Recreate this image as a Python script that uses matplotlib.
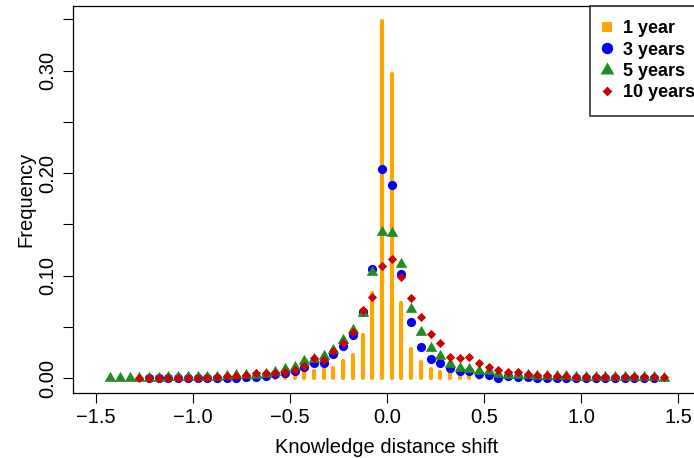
import matplotlib
matplotlib.use('Agg')
import matplotlib.pyplot as plt
from matplotlib.lines import Line2D
import numpy as np

plt.rcParams['font.family'] = ['Liberation Sans', 'DejaVu Sans']

# bin centres of the knowledge distance shift
bins = [-1.425, -1.375, -1.325, -1.275, -1.225, -1.175, -1.125, -1.075, -1.025, -0.975,
        -0.925, -0.875, -0.825, -0.775, -0.725, -0.675, -0.625, -0.575, -0.525, -0.475,
        -0.425, -0.375, -0.325, -0.275, -0.225, -0.175, -0.125, -0.075, -0.025, 0.025,
        0.075, 0.125, 0.175, 0.225, 0.275, 0.325, 0.375, 0.425, 0.475, 0.525,
        0.575, 0.625, 0.675, 0.725, 0.775, 0.825, 0.875, 0.925, 0.975, 1.025,
        1.075, 1.125, 1.175, 1.225, 1.275, 1.325, 1.375, 1.425]

N = None
year1 = [N] * 16 + [0.0012, 0.002, 0.004, 0.0055, 0.0065, 0.0072, 0.0088, 0.0105, 0.017, 0.0232,
                    0.042, 0.083, 0.348, 0.297, 0.0735, 0.029, 0.016, 0.009, 0.0065, 0.005,
                    0.0035, 0.0021, 0.0012, 0.0004, 0.0] + [N] * 17
year3 = [N, N, N, N, 0.0002, 0.0002, 0.0003, 0.0003, 0.0003, 0.0004,
         0.0004, 0.0005, 0.0006, 0.0008, 0.001, 0.0013, 0.0018, 0.004, 0.0055, 0.0075,
         0.011, 0.0153, 0.0153, 0.024, 0.0315, 0.0425, 0.0643, 0.107, 0.204, 0.1886,
         0.1022, 0.055, 0.0306, 0.0192, 0.0145, 0.010, 0.0075, 0.0068, 0.0042, 0.0031,
         0.0008, 0.0018, 0.0015, 0.001, 0.0007, 0.0004, 0.0003, 0.0003, 0.0003, 0.0003,
         0.0002, 0.0002, 0.0002, 0.0002, 0.0002, 0.0002, 0.0002, N]
year5 = [0.0004, 0.0004, 0.0004, 0.0006, 0.0008, 0.0008, 0.0009, 0.001, 0.001, 0.0012,
         0.0015, 0.0017, 0.0025, 0.003, 0.0035, 0.0035, 0.004, 0.006, 0.009, 0.011,
         0.0165, 0.019, 0.0215, 0.028, 0.037, 0.047, 0.064, 0.104, 0.143, 0.142,
         0.111, 0.068, 0.045, 0.030, 0.0215, 0.0143, 0.0105, 0.0095, 0.0075, 0.007,
         0.004, 0.003, 0.003, 0.003, 0.0025, 0.002, 0.002, 0.0018, 0.0015, 0.0015,
         0.0015, 0.0012, 0.0012, 0.0012, 0.001, 0.001, 0.001, 0.0008]
year10 = [N, N, N, 0.0005, 0.0005, 0.0005, 0.0006, 0.0006, 0.0006, 0.0007,
          0.0008, 0.0012, 0.0018, 0.0025, 0.0032, 0.0052, 0.005, 0.0055, 0.0062, 0.0081,
          0.012, 0.0198, 0.0178, 0.027, 0.0347, 0.0455, 0.0665, 0.0792, 0.1094, 0.1168,
          0.099, 0.0788, 0.060, 0.0433, 0.0345, 0.0205, 0.0200, 0.021, 0.0146, 0.0114,
          0.0081, 0.0062, 0.0062, 0.004, 0.003, 0.0028, 0.0022, 0.0018, 0.0015, 0.0012,
          0.0012, 0.0011, 0.0011, 0.001, 0.001, 0.001, 0.001, 0.0009]

labels = ['1 year', '3 years', '5 years', '10 years']
colors = ['#FFA500', '#0000FF', '#228B22', '#CD0000']

x = np.array(bins)
def arr(v):
    return np.array([np.nan if a is None else a for a in v], dtype=float)

# R-like markers (triangle centred on centroid, diamond)
tri = [(0, 1), (-0.866, -0.5), (0.866, -0.5), (0, 1)]
dia = [(0, 1), (1, 0), (0, -1), (-1, 0), (0, 1)]

fig = plt.figure(figsize=(6.94, 4.58), dpi=100)
# plot region runs a little past the right edge (the original is cropped)
ax = fig.add_axes([72.7 / 694, 65.3 / 458, (701 - 72.7) / 694, 386.7 / 458])

y1 = arr(year1)
m = ~np.isnan(y1)
bars = ax.vlines(x[m], 0, y1[m], colors=colors[0], linewidth=3.0)
bars.set_capstyle('round')

ax.plot(x, arr(year3), 'o', color=colors[1], ms=6.6, mew=0, linestyle='none')
ax.plot(x, arr(year5), marker=tri, color=colors[2], ms=9.6, mew=0, linestyle='none')
ax.plot(x, arr(year10), marker=dia, color=colors[3], ms=6.6, mew=0, linestyle='none')

ax.set_xlim(-1.618, 1.618)
ax.set_ylim(-0.014, 0.363)
ax.set_xticks([-1.5, -1.0, -0.5, 0.0, 0.5, 1.0, 1.5])
ax.set_xticklabels(['\u22121.5', '\u22121.0', '\u22120.5', '0.0', '0.5', '1.0', '1.5'])
yt = [0.0, 0.05, 0.10, 0.15, 0.20, 0.25, 0.30, 0.35]
ax.set_yticks(yt)
ax.set_yticklabels(['0.00', '', '0.10', '', '0.20', '', '0.30', ''],
                   rotation=90, va='center')
ax.tick_params(direction='out', length=7.5, width=0.8, labelsize=14.5, pad=3.5)
for s in ax.spines.values():
    s.set_linewidth(0.9)

ax.set_xlabel('Knowledge distance shift', fontsize=14.5, labelpad=8)
ax.set_ylabel('Frequency', fontsize=14.5, labelpad=2)

handles = [
    Line2D([], [], marker='s', color=colors[0], ms=6.6, mew=0, linestyle='none'),
    Line2D([], [], marker='o', color=colors[1], ms=8.2, mew=0, linestyle='none'),
    Line2D([], [], marker=tri, color=colors[2], ms=11.5, mew=0, linestyle='none'),
    Line2D([], [], marker=dia, color=colors[3], ms=7.0, mew=0, linestyle='none'),
]
leg = ax.legend(handles, labels, loc='upper left',
                bbox_to_anchor=(590 / 694, 1 - 6 / 458), bbox_transform=fig.transFigure,
                prop={'size': 13, 'weight': 'bold'}, frameon=True, fancybox=False,
                edgecolor='black', borderaxespad=0, handlelength=0.32,
                handletextpad=0.69, labelspacing=0.24, borderpad=0.8)
leg.get_frame().set_linewidth(1.2)

fig.savefig('out.png', dpi=100)
